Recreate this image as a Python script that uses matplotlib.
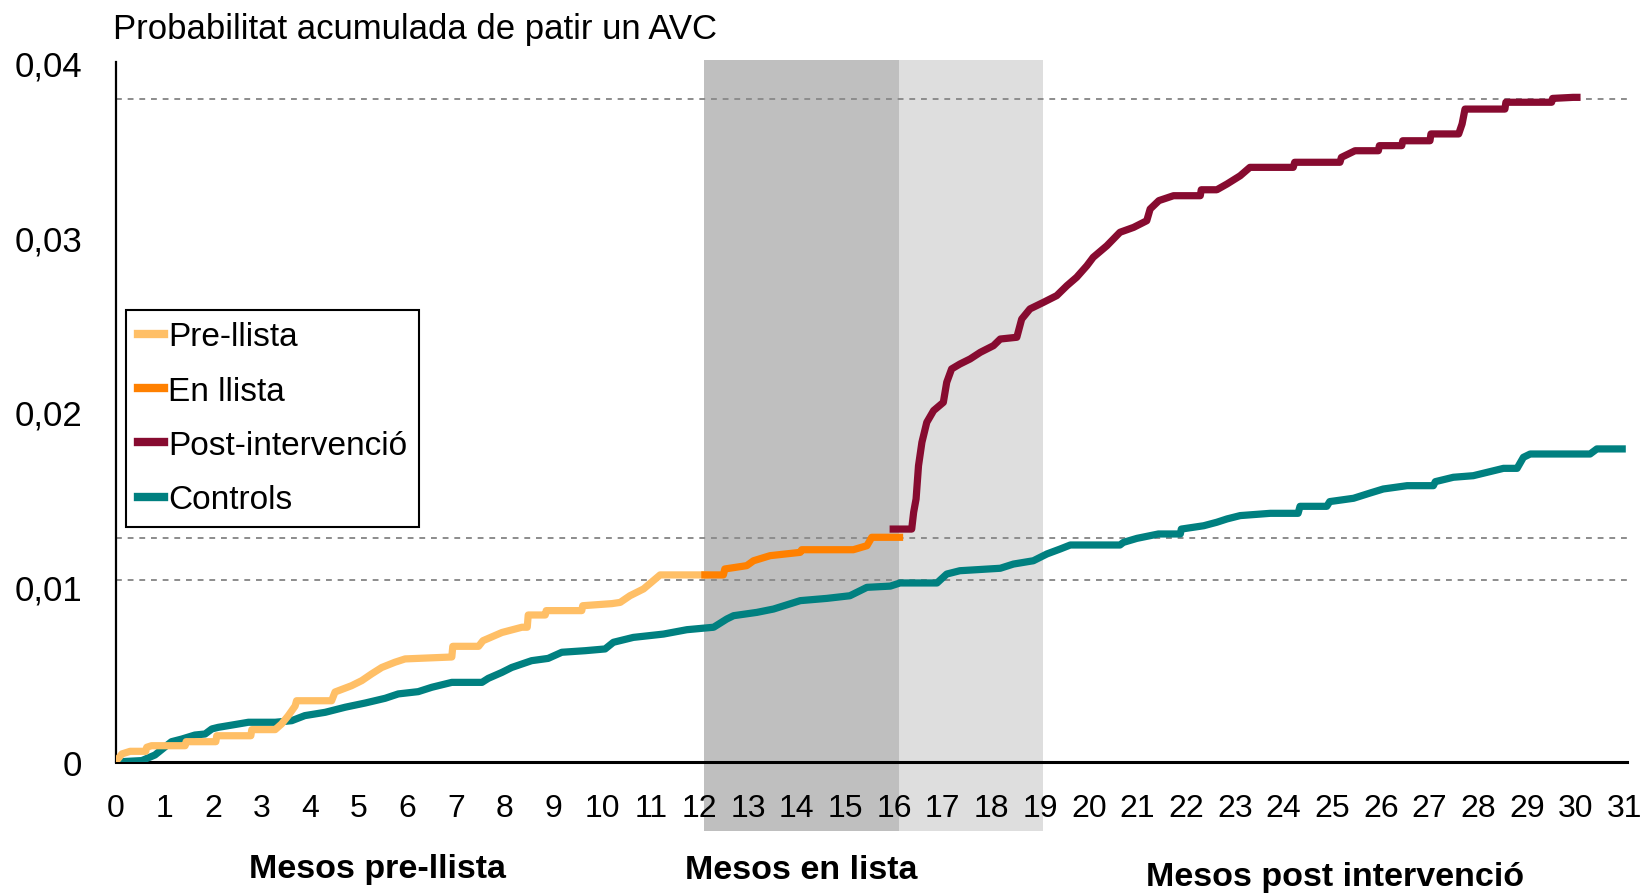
import matplotlib.pyplot as plt
from matplotlib.patches import Rectangle

plt.rcParams.update({
    'font.family': ['Liberation Sans', 'DejaVu Sans'],
    'font.size': 24,
})

# month, cumulative probability
pre_x = [0.0, 0.13, 0.30, 0.62, 0.64, 0.74, 1.43, 1.45, 2.06, 2.08, 2.78, 2.80, 3.28, 3.41, 3.55, 3.69,
         3.72, 4.44, 4.51, 4.85, 5.06, 5.26, 5.47, 5.74, 5.95, 6.91, 6.93, 7.46, 7.55, 7.94, 8.35, 8.46,
         8.48, 8.83, 8.85, 9.58, 9.60, 10.2, 10.37, 10.57, 10.85, 11.05, 11.19, 12.11]
pre_y = [0.0, 0.00046, 0.00061, 0.00061, 0.00084, 0.00093, 0.00093, 0.00116, 0.00116, 0.0015, 0.0015,
         0.00185, 0.00185, 0.00217, 0.00265, 0.0032, 0.0035, 0.0035, 0.0040, 0.00436, 0.00465, 0.00503,
         0.0054, 0.0057, 0.00589, 0.006, 0.00661, 0.00661, 0.00693, 0.0074, 0.0077, 0.0077, 0.0084,
         0.0084, 0.00865, 0.00865, 0.00893, 0.00905, 0.00912, 0.0095, 0.00989, 0.01036, 0.01069, 0.01069]

llista_x = [12.11, 12.49, 12.52, 12.97, 13.11, 13.45, 14.07, 14.1, 15.16, 15.44, 15.54, 16.11]
llista_y = [0.01069, 0.01069, 0.01103, 0.01122, 0.0115, 0.01179, 0.01198, 0.01213, 0.01213, 0.01236,
            0.01284, 0.01284]

post_x = [15.98, 16.36, 16.4, 16.45, 16.5, 16.57, 16.67, 16.81, 17.01, 17.08, 17.18, 17.35, 17.56, 17.77,
          18.04, 18.18, 18.52, 18.62, 18.79, 19.07, 19.34, 19.55, 19.75, 19.96, 20.09, 20.37, 20.64,
          20.92, 21.19, 21.26, 21.44, 21.74, 22.29, 22.31, 22.63, 22.84, 23.11, 23.31, 24.2, 24.23,
          25.16, 25.19, 25.47, 25.95, 25.97, 26.43, 26.45, 27.01, 27.03, 27.6, 27.67, 27.73, 28.55,
          28.57, 29.51, 29.53, 29.95, 30.03]
post_y = [0.01331, 0.01331, 0.01427, 0.01503, 0.01693, 0.01827, 0.01941, 0.02008, 0.02055, 0.0217,
          0.02246, 0.02274, 0.02303, 0.02341, 0.02379, 0.02417, 0.02427, 0.02531, 0.02589, 0.02627,
          0.02665, 0.02722, 0.0277, 0.02836, 0.02884, 0.0295, 0.03027, 0.03055, 0.03093, 0.0316,
          0.03208, 0.03236, 0.03236, 0.0327, 0.0327, 0.03303, 0.0335, 0.03398, 0.03398, 0.03427,
          0.03427, 0.03455, 0.03493, 0.03493, 0.03522, 0.03522, 0.0355, 0.0355, 0.03589, 0.03589,
          0.03646, 0.03731, 0.03731, 0.0377, 0.0377, 0.03792, 0.03798, 0.03798]

ctrl_x = [0.0, 0.54, 0.81, 1.15, 1.36, 1.63, 1.84, 1.98, 2.11, 2.39, 2.73, 3.28, 3.62, 3.89, 4.31, 4.72,
          5.13, 5.54, 5.81, 6.22, 6.5, 6.91, 7.53, 7.66, 7.94, 8.14, 8.55, 8.89, 9.17, 9.65, 10.06,
          10.23, 10.64, 11.26, 11.74, 12.29, 12.56, 12.7, 13.18, 13.52, 14.07, 14.62, 15.09, 15.44,
          15.92, 16.12, 16.88, 17.08, 17.35, 18.18, 18.45, 18.86, 19.14, 19.41, 19.62, 20.64, 20.71,
          20.99, 21.43, 21.88, 21.9, 22.36, 22.63, 22.84, 23.11, 23.73, 24.3, 24.34, 24.89, 24.95,
          25.44, 25.78, 26.05, 26.54, 27.08, 27.12, 27.49, 27.9, 28.18, 28.52, 28.8, 28.93, 29.07,
          30.3, 30.44, 30.96]
ctrl_y = [0.0, 0.00008, 0.0004, 0.00116, 0.00131, 0.00154, 0.0016, 0.00189, 0.00198, 0.00211, 0.00227,
          0.00227, 0.00236, 0.00265, 0.00284, 0.00313, 0.00337, 0.00364, 0.00389, 0.00402, 0.00427,
          0.00455, 0.00455, 0.00478, 0.00512, 0.0054, 0.00579, 0.00592, 0.00627, 0.00636, 0.00646,
          0.00684, 0.00712, 0.00731, 0.00756, 0.0077, 0.00817, 0.00836, 0.00855, 0.00874, 0.00922,
          0.00935, 0.0095, 0.00998, 0.01005, 0.01023, 0.01023, 0.01074, 0.01093, 0.01107, 0.01131,
          0.0115, 0.01189, 0.01217, 0.0124, 0.0124, 0.01255, 0.01278, 0.01303, 0.01303, 0.01331,
          0.0135, 0.0137, 0.01389, 0.01408, 0.01421, 0.01421, 0.01461, 0.01461, 0.01488, 0.01507,
          0.01537, 0.0156, 0.01579, 0.01579, 0.01602, 0.01627, 0.01636, 0.01655, 0.01678, 0.01678,
          0.01741, 0.0176, 0.0176, 0.01789, 0.01789]

ref_levels = [0.0379, 0.0128, 0.01042]
phases = [(12.1, 16.1, '#bfbfbf'), (16.1, 19.05, '#dedede')]
month_ticks = list(range(32))
y_ticks = [0, 0.01, 0.02, 0.03, 0.04]
y_labels = ['0', '0,01', '0,02', '0,03', '0,04']

fig = plt.figure(figsize=(16.46, 8.95), dpi=100)
ax = fig.add_axes([0.0702, 0.1475, 0.918, 0.7821])

for x0, x1, col in phases:
    ax.add_patch(Rectangle((x0, -0.0986), x1 - x0, 1.102, transform=ax.get_xaxis_transform(),
                           facecolor=col, edgecolor='none', clip_on=False, zorder=0.5))

for lvl in ref_levels:
    ax.axhline(lvl, color='#8c8c8c', linestyle=(0, (3, 3)), linewidth=1.4, zorder=1.2)

lw = 5.2
ax.plot(pre_x, pre_y, color='#ffbf66', linewidth=lw, label='Pre-llista', zorder=3)
ax.plot(llista_x, llista_y, color='#ff8000', linewidth=lw, label='En llista', zorder=3)
ax.plot(post_x, post_y, color='#870b30', linewidth=lw, label='Post-intervenció', zorder=3)
ax.plot(ctrl_x, ctrl_y, color='#008080', linewidth=lw, label='Controls', zorder=2.9)

ax.set_xlim(0, 31.05)
ax.set_ylim(0, 0.04)
ax.set_xticks(month_ticks)
ax.set_xticklabels([str(m) for m in month_ticks], fontsize=23)
ax.set_yticks(y_ticks)
ax.set_yticklabels(y_labels, fontsize=25)
ax.tick_params(axis='both', length=0)
ax.tick_params(axis='x', pad=22)
ax.tick_params(axis='y', pad=24)
ax.patch.set_visible(False)

for side in ['top', 'right']:
    ax.spines[side].set_visible(False)
ax.spines['left'].set_linewidth(1.6)
ax.spines['bottom'].set_linewidth(2.2)

leg = ax.legend(loc='upper left', bbox_to_anchor=(0.007, 0.646), borderaxespad=0,
                fontsize=24, handlelength=0.8, handletextpad=0.1, labelspacing=0.7,
                borderpad=0.35, fancybox=False, framealpha=1)
leg.get_frame().set_edgecolor('black')
leg.get_frame().set_linewidth(1.5)
for h in leg.get_lines():
    h.set_linewidth(6)

fig.text(0.0687, 0.967, 'Probabilitat acumulada de patir un AVC', fontsize=25, va='center', ha='left')
fig.text(0.2296, 0.029, 'Mesos pre-llista', fontsize=24.5, fontweight='bold', ha='center', va='center')
fig.text(0.4866, 0.027, 'Mesos en lista', fontsize=24.5, fontweight='bold', ha='center', va='center')
fig.text(0.811, 0.020, 'Mesos post intervenció', fontsize=24.5, fontweight='bold', ha='center', va='center')

plt.savefig('out.png', dpi=100)
plt.close()
